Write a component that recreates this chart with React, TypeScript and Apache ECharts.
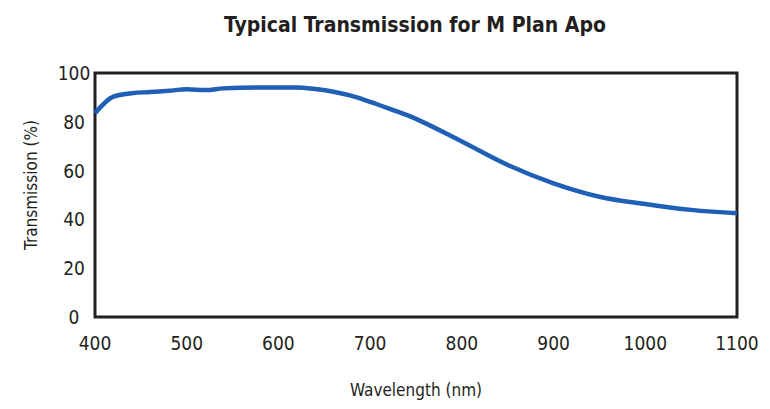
import React, { useEffect, useRef } from "react";
import * as echarts from "echarts";

const wavelengths = [400, 410, 420, 440, 460, 480, 500, 520, 540, 560, 600, 620, 640, 660, 680, 700, 720, 750, 800, 850, 900, 950, 1000, 1050, 1100];
const transmission = [83.5, 87.5, 90.3, 91.7, 92.2, 92.7, 93.3, 93.0, 93.7, 94.0, 94.1, 94.1, 93.4, 92.3, 90.6, 88.2, 85.5, 81.2, 71.9, 62.3, 54.8, 49.3, 46.3, 43.9, 42.5];
const xTicks = [400, 500, 600, 700, 800, 900, 1000, 1100];
const yTicks = [0, 20, 40, 60, 80, 100];

const FONT = "'DejaVu Sans Condensed', 'Liberation Sans Narrow', 'Noto Sans', sans-serif";
const INK = "#231f20";

export default function App() {
  const ref = useRef<HTMLDivElement>(null);
  useEffect(() => {
    if (!ref.current) return;
    const chart = echarts.init(ref.current, null, { renderer: "svg" });
    chart.setOption({
      animation: false,
      backgroundColor: "#ffffff",
      title: {
        text: "Typical Transmission for M Plan Apo",
        left: 410,
        top: 9,
        textAlign: "center",
        textStyle: { fontFamily: FONT, fontSize: 21, fontWeight: "bold", color: INK },
      },
      grid: {
        left: 95,
        right: 33,
        top: 73,
        bottom: 92,
        outerBoundsMode: "none",
        containLabel: false,
        show: true,
        borderColor: INK,
        borderWidth: 3,
        backgroundColor: "transparent",
      },
      xAxis: {
        type: "value",
        min: xTicks[0],
        max: xTicks[xTicks.length - 1],
        interval: 100,
        name: "Wavelength (nm)",
        nameLocation: "middle",
        nameGap: 64,
        nameTextStyle: { fontFamily: FONT, fontSize: 17, color: INK },
        axisLine: { show: false },
        axisTick: { show: false },
        splitLine: { show: false },
        axisLabel: { fontFamily: FONT, fontSize: 19, color: INK, margin: 16, formatter: (v: number) => String(v) },
      },
      yAxis: {
        type: "value",
        min: yTicks[0],
        max: yTicks[yTicks.length - 1],
        interval: 20,
        name: "Transmission (%)",
        nameLocation: "middle",
        nameGap: 56,
        nameRotate: 90,
        nameTextStyle: { fontFamily: FONT, fontSize: 17, color: INK, padding: [0, 0, 0, 20] },
        axisLine: { show: false },
        axisTick: { show: false },
        splitLine: { show: false },
        axisLabel: { fontFamily: FONT, fontSize: 19, color: INK, margin: 21, align: "center", formatter: (v: number) => String(v) },
      },
      series: [
        {
          type: "line",
          data: wavelengths.map((w, i) => [w, transmission[i]]),
          smooth: 0.4,
          showSymbol: false,
          lineStyle: { color: "#1f5fb5", width: 4.5 },
        },
      ],
    });
    return () => chart.dispose();
  }, []);
  return <div ref={ref} style={{ position: "fixed", left: 0, top: 0, width: 770, height: 409 }} />;
}
